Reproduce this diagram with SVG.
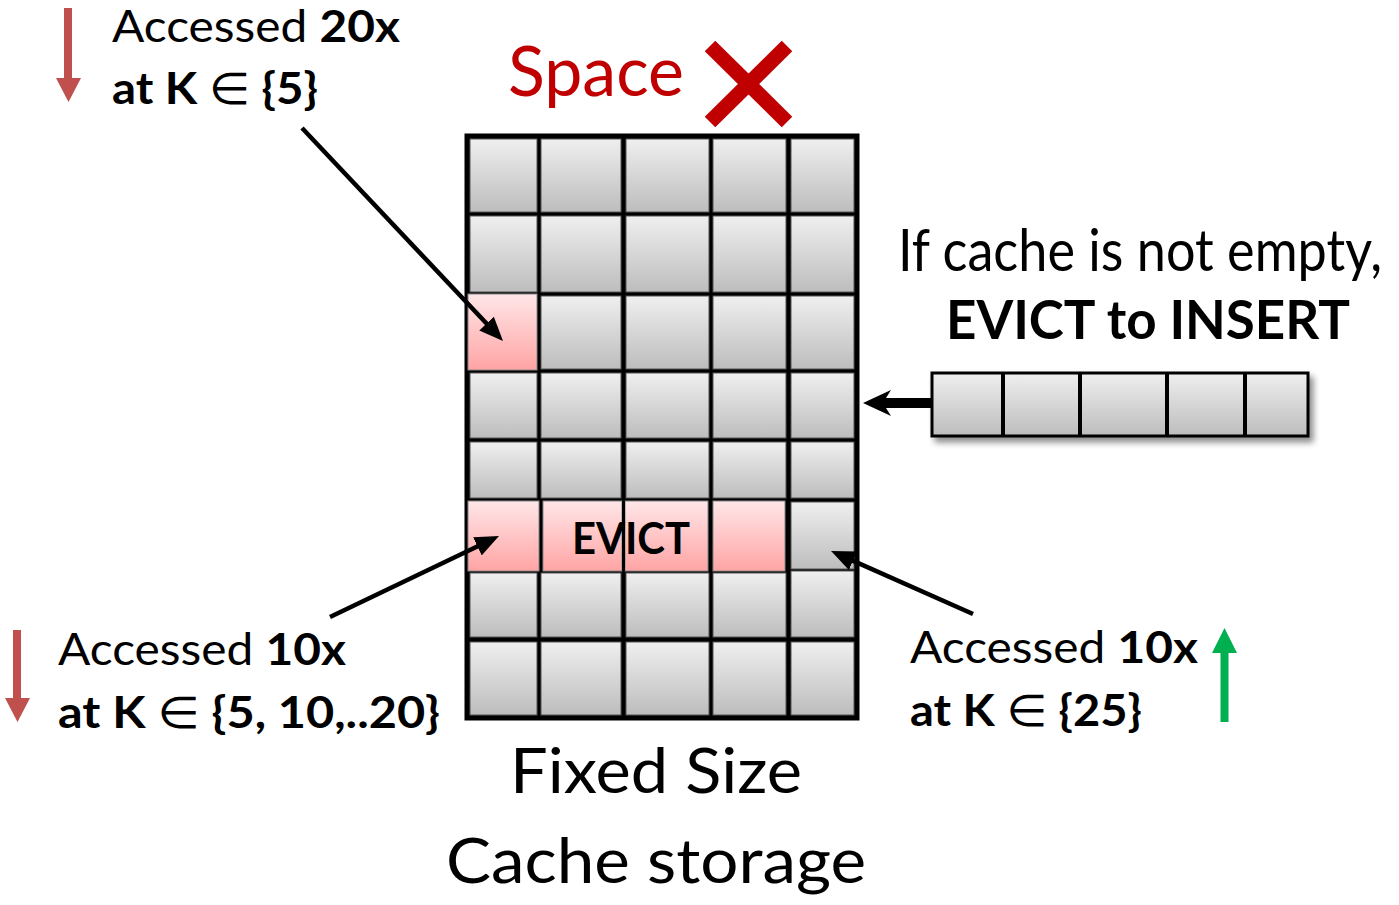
<svg xmlns="http://www.w3.org/2000/svg" width="1399" height="905" viewBox="0 0 1399 905">
<defs>
  <linearGradient id="g" x1="0" y1="0" x2="0" y2="1">
    <stop offset="0" stop-color="#efefef"/>
    <stop offset="1" stop-color="#bdbdbd"/>
  </linearGradient>
  <linearGradient id="p" x1="0" y1="0" x2="0" y2="1">
    <stop offset="0" stop-color="#ffe6e8"/>
    <stop offset="1" stop-color="#ffa4a4"/>
  </linearGradient>
  <marker id="ah" markerUnits="userSpaceOnUse" markerWidth="24" markerHeight="20" refX="12" refY="10" orient="auto">
    <path d="M0,0 L24,10 L0,20 Z" fill="#000"/>
  </marker>
  <filter id="sh" x="-10%" y="-30%" width="130%" height="170%">
    <feDropShadow dx="4" dy="5" stdDeviation="3" flood-color="#000" flood-opacity="0.45"/>
  </filter>
</defs>
<style>
  .t{font-family:Lato,"Open Sans","DejaVu Sans",sans-serif;fill:#000}
  .b{font-weight:bold}
  .n{font-weight:normal}
  .c{fill:url(#g);stroke:#555;stroke-width:1}
  .pk{fill:url(#p);stroke:#888;stroke-width:1}
  .conn{stroke:#000;stroke-width:4.5;fill:none}
</style>
<rect width="1399" height="905" fill="#fff"/>

<g id="cache-grid">
  <rect x="467" y="136" width="390" height="582" fill="#000" stroke="#000" stroke-width="5"/>
  <!-- row 1 -->
  <rect class="c" x="470" y="139" width="67" height="73"/>
  <rect class="c" x="541" y="139" width="80" height="73"/>
  <rect class="c" x="626" y="139" width="83" height="73"/>
  <rect class="c" x="713" y="139" width="73" height="73"/>
  <rect class="c" x="791" y="139" width="63" height="73"/>
  <!-- row 2 -->
  <rect class="c" x="470" y="216" width="67" height="76"/>
  <rect class="c" x="541" y="216" width="80" height="76"/>
  <rect class="c" x="626" y="216" width="83" height="76"/>
  <rect class="c" x="713" y="216" width="73" height="76"/>
  <rect class="c" x="791" y="216" width="63" height="76"/>
  <!-- row 3 -->
  <rect class="pk" x="468" y="294" width="69" height="76"/>
  <rect class="c" x="541" y="296" width="80" height="73"/>
  <rect class="c" x="626" y="296" width="83" height="73"/>
  <rect class="c" x="713" y="296" width="73" height="73"/>
  <rect class="c" x="791" y="296" width="63" height="73"/>
  <!-- row 4 -->
  <rect class="c" x="470" y="373" width="67" height="65"/>
  <rect class="c" x="541" y="373" width="80" height="65"/>
  <rect class="c" x="626" y="373" width="83" height="65"/>
  <rect class="c" x="713" y="373" width="73" height="65"/>
  <rect class="c" x="791" y="373" width="63" height="65"/>
  <!-- row 5 -->
  <rect class="c" x="470" y="442" width="67" height="56"/>
  <rect class="c" x="541" y="442" width="80" height="56"/>
  <rect class="c" x="626" y="442" width="83" height="56"/>
  <rect class="c" x="713" y="442" width="73" height="56"/>
  <rect class="c" x="791" y="442" width="63" height="56"/>
  <!-- row 6 (evict) -->
  <rect class="pk" x="468" y="501" width="71" height="70"/>
  <rect class="pk" x="543" y="501" width="79" height="70"/>
  <rect class="pk" x="625" y="501" width="83" height="70"/>
  <rect class="pk" x="713" y="501" width="72" height="70"/>
  <rect class="c" x="791" y="502" width="63" height="67"/>
  <!-- row 7 -->
  <rect class="c" x="470" y="573" width="67" height="64"/>
  <rect class="c" x="541" y="573" width="80" height="64"/>
  <rect class="c" x="626" y="573" width="83" height="64"/>
  <rect class="c" x="713" y="573" width="73" height="64"/>
  <rect class="c" x="791" y="571" width="63" height="66"/>
  <!-- row 8 -->
  <rect class="c" x="470" y="642" width="67" height="73"/>
  <rect class="c" x="541" y="642" width="80" height="73"/>
  <rect class="c" x="626" y="642" width="83" height="73"/>
  <rect class="c" x="713" y="642" width="73" height="73"/>
  <rect class="c" x="791" y="642" width="63" height="73"/>
  <line x1="623.5" y1="501" x2="623.5" y2="571" stroke="#000" stroke-width="3"/>
  <text class="t b" x="572" y="554" font-size="43" textLength="118" lengthAdjust="spacingAndGlyphs">EVICT</text>
</g>

<g id="insert-block" filter="url(#sh)">
  <rect x="932" y="373" width="376" height="63" fill="url(#g)" stroke="#000" stroke-width="3"/>
  <line x1="1003" y1="373" x2="1003" y2="436" stroke="#000" stroke-width="4"/>
  <line x1="1080" y1="373" x2="1080" y2="436" stroke="#000" stroke-width="4"/>
  <line x1="1167" y1="373" x2="1167" y2="436" stroke="#000" stroke-width="4"/>
  <line x1="1245" y1="373" x2="1245" y2="436" stroke="#000" stroke-width="4"/>
</g>

<g id="connectors">
  <line class="conn" x1="302" y1="128" x2="494.8" y2="332.3" marker-end="url(#ah)"/>
  <line class="conn" x1="330" y1="617" x2="488.2" y2="541.2" marker-end="url(#ah)"/>
  <line class="conn" x1="973" y1="614" x2="842" y2="555.9" marker-end="url(#ah)"/>
  <path d="M863,403 L891,390 L886,398 L932,398 L932,408 L886,408 L891,416 Z" fill="#000"/>
</g>

<g id="space-label">
  <text class="t" x="508" y="96" font-size="70" style="fill:#c00000" textLength="176" lengthAdjust="spacingAndGlyphs">Space</text>
  <line x1="710" y1="46" x2="787" y2="122" stroke="#c00000" stroke-width="15"/>
  <line x1="787" y1="46" x2="710" y2="122" stroke="#c00000" stroke-width="15"/>
</g>

<g id="top-left-note">
  <path d="M64,8 H72 V78 H81 L68.5,102 L56,78 H64 Z" fill="#c0504d"/>
  <text class="t" x="112" y="42" font-size="44" textLength="288" lengthAdjust="spacingAndGlyphs">Accessed <tspan class="b">20x</tspan></text>
  <text class="t b" x="112" y="104" font-size="44" textLength="206" lengthAdjust="spacingAndGlyphs">at K <tspan class="n">∈</tspan> {5}</text>
</g>

<g id="bottom-left-note">
  <path d="M13,630 H21 V698 H30 L17.5,722 L5,698 H13 Z" fill="#c0504d"/>
  <text class="t" x="58" y="665" font-size="44" textLength="288" lengthAdjust="spacingAndGlyphs">Accessed <tspan class="b">10x</tspan></text>
  <text class="t b" x="58" y="728" font-size="44" textLength="382" lengthAdjust="spacingAndGlyphs">at K <tspan class="n">∈</tspan> {5, 10,..20}</text>
</g>

<g id="bottom-right-note">
  <path d="M1224.5,628 L1237,653 H1228.5 V722 H1220.5 V653 H1212 Z" fill="#00b050"/>
  <text class="t" x="910" y="663" font-size="44" textLength="288" lengthAdjust="spacingAndGlyphs">Accessed <tspan class="b">10x</tspan></text>
  <text class="t b" x="910" y="726" font-size="44" textLength="232" lengthAdjust="spacingAndGlyphs">at K <tspan class="n">∈</tspan> {25}</text>
</g>

<g id="insert-note">
  <text class="t" transform="translate(898,271) scale(1,1.16)" x="0" y="0" font-size="50" textLength="484" lengthAdjust="spacingAndGlyphs">If cache is not empty,</text>
  <text class="t b" x="946" y="339" font-size="54" textLength="404" lengthAdjust="spacingAndGlyphs">EVICT to INSERT</text>
</g>

<g id="caption">
  <text class="t" x="510" y="793" font-size="62" textLength="292" lengthAdjust="spacingAndGlyphs">Fixed Size</text>
  <text class="t" x="446" y="883" font-size="62" textLength="420" lengthAdjust="spacingAndGlyphs">Cache storage</text>
</g>
</svg>
